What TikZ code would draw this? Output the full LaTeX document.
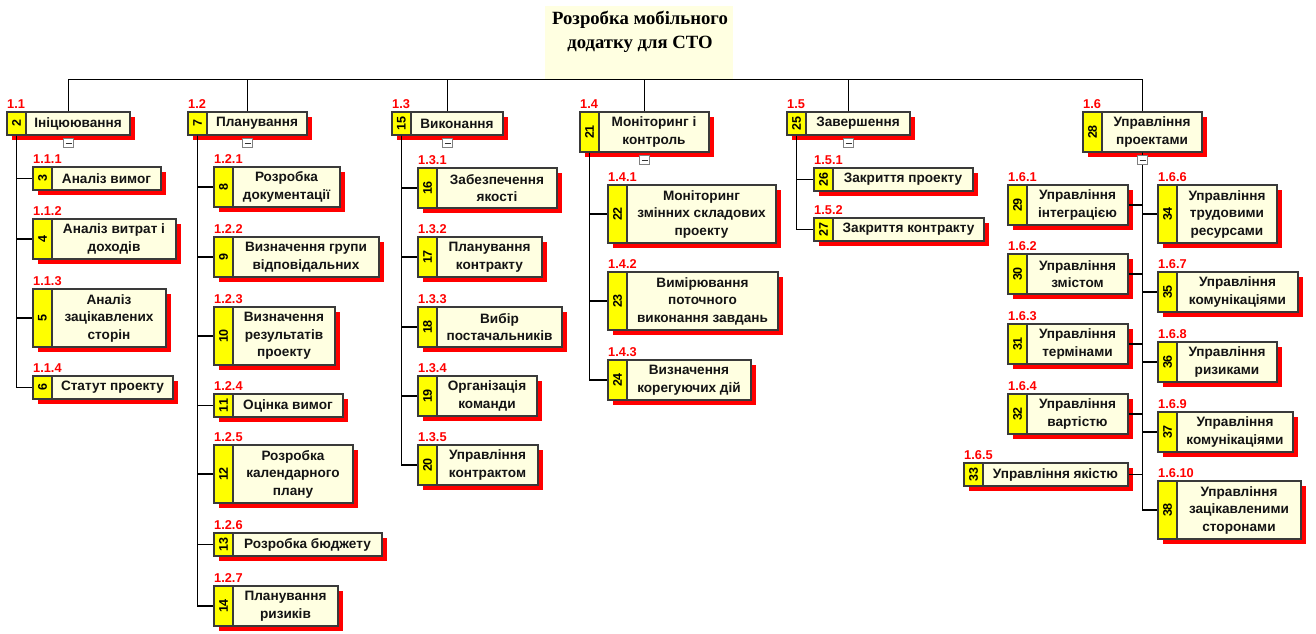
\documentclass[tikz,border=0pt]{standalone}
\usepackage{fontspec}
\setmainfont{Liberation Sans}
\newfontfamily\rootfont{Liberation Serif}
\usetikzlibrary{shadows}
\definecolor{cream}{HTML}{FFFFE1}
\definecolor{ylw}{HTML}{FFFF00}
\definecolor{shred}{HTML}{FF0000}
\definecolor{bord}{HTML}{3A3A3A}
\definecolor{txtc}{HTML}{141414}
\tikzset{
 wbs/.style={draw=bord, line width=1.1pt, fill=cream, inner sep=0pt,
   general shadow={fill=shred, shadow xshift=5pt, shadow yshift=-5pt}},
 numcell/.style={draw=bord, line width=1.1pt, fill=ylw, inner sep=0pt, minimum width=19pt},
 numtxt/.style={rotate=90, inner sep=0pt, font=\fontsize{12.5}{12.5}\selectfont\bfseries, text=black},
 wtxt/.style={align=center, inner sep=0pt, font=\fontsize{13.6}{17.5}\selectfont\bfseries, text=txtc},
 wlbl/.style={anchor=base west, inner sep=0pt, font=\fontsize{12.8}{12.8}\selectfont\bfseries, text=shred},
 conn/.style={draw=black, line width=1.1pt},
 marker/.style={draw=gray, fill=white, line width=0.8pt, minimum width=10pt, minimum height=9pt, inner sep=0pt,
   path picture={\draw[line width=1.1pt, black!80] ([xshift=-3pt]path picture bounding box.center) -- ([xshift=3pt]path picture bounding box.center);}},
}
\newcommand{\wbsbox}[8]{%
 \node[wbs, minimum width={#4-#2}, minimum height={#5-#3}] (b#1) at ({(#2+#4)/2},{(#3+#5)/2}) {};
 \node[numcell, minimum height={#5-#3}] (n#1) at ({#2+9.5},{(#3+#5)/2}) {};
 \node[numtxt] (k#1) at (n#1.center) {#6};
 \node[wtxt] (t#1) at ({(#2+19+#4)/2},{(#3+#5)/2}) {#8};
 \node[wlbl] (l#1) at ({#2},{#3-4}) {#7};
}
\newcommand{\wbsmark}[1]{\node[marker] (m#1) at ([yshift=-7.5pt]b#1.south) {};}
\begin{document}
\begin{tikzpicture}[x=1pt,y=-1pt]
\useasboundingbox (0,0) rectangle (1316,633);
% root
\node[fill=cream, minimum width=188pt, minimum height=73pt, inner sep=0pt] (broot) at (639,42.5) {};
\node[anchor=north, align=center, inner sep=0pt, font=\rootfont\fontsize{18.7}{24}\selectfont\bfseries] (troot) at (640,11) {Розробка мобільного\\додатку для СТО};
% level 1
\wbsbox{11}{7}{112}{130}{135}{2}{1.1}{Ініцюювання}
\wbsbox{12}{188}{112}{307}{135}{7}{1.2}{Планування}
\wbsbox{13}{392}{112}{503}{135}{15}{1.3}{Виконання}
\wbsbox{14}{580}{112}{709}{152}{21}{1.4}{Моніторинг і\\контроль}
\wbsbox{15}{787}{112}{910}{135}{25}{1.5}{Завершення}
\wbsbox{16}{1083}{112}{1202}{152}{28}{1.6}{Управління\\проектами}
% 1.1
\wbsbox{111}{33}{167}{161}{190}{3}{1.1.1}{Аналіз вимог}
\wbsbox{112}{33}{219}{176}{259}{4}{1.1.2}{Аналіз витрат і\\доходів}
\wbsbox{113}{33}{289}{166}{347}{5}{1.1.3}{Аналіз\\зацікавлених\\сторін}
\wbsbox{114}{33}{376}{173}{399}{6}{1.1.4}{Статут проекту}
% 1.2
\wbsbox{121}{214}{167}{340}{207}{8}{1.2.1}{Розробка\\документації}
\wbsbox{122}{214}{237}{379}{277}{9}{1.2.2}{Визначення групи\\відповідальних}
\wbsbox{123}{214}{307}{335}{365}{10}{1.2.3}{Визначення\\результатів\\проекту}
\wbsbox{124}{214}{394}{343}{417}{11}{1.2.4}{Оцінка вимог}
\wbsbox{125}{214}{445}{353}{503}{12}{1.2.5}{Розробка\\календарного\\плану}
\wbsbox{126}{214}{533}{382}{556}{13}{1.2.6}{Розробка бюджету}
\wbsbox{127}{214}{586}{338}{626}{14}{1.2.7}{Планування\\ризиків}
% 1.3
\wbsbox{131}{418}{168}{557}{208}{16}{1.3.1}{Забезпечення\\якості}
\wbsbox{132}{418}{237}{542}{277}{17}{1.3.2}{Планування\\контракту}
\wbsbox{133}{418}{307}{562}{347}{18}{1.3.3}{Вибір\\постачальників}
\wbsbox{134}{418}{376}{537}{416}{19}{1.3.4}{Організація\\команди}
\wbsbox{135}{418}{445}{538}{485}{20}{1.3.5}{Управління\\контрактом}
% 1.4
\wbsbox{141}{608}{185}{776}{243}{22}{1.4.1}{Моніторинг\\змінних складових\\проекту}
\wbsbox{142}{608}{272}{778}{330}{23}{1.4.2}{Вимірювання\\поточного\\виконання завдань}
\wbsbox{143}{608}{360}{751}{400}{24}{1.4.3}{Визначення\\корегуючих дій}
% 1.5
\wbsbox{151}{814}{168}{973}{191}{26}{1.5.1}{Закриття проекту}
\wbsbox{152}{814}{218}{984}{241}{27}{1.5.2}{Закриття контракту}
% 1.6
\wbsbox{161}{1008}{185}{1128}{225}{29}{1.6.1}{Управління\\інтеграцією}
\wbsbox{162}{1008}{254}{1128}{294}{30}{1.6.2}{Управління\\змістом}
\wbsbox{163}{1008}{324}{1128}{364}{31}{1.6.3}{Управління\\термінами}
\wbsbox{164}{1008}{394}{1128}{434}{32}{1.6.4}{Управління\\вартістю}
\wbsbox{165}{964}{463}{1128}{486}{33}{1.6.5}{Управління якістю}
\wbsbox{166}{1158}{185}{1277}{243}{34}{1.6.6}{Управління\\трудовими\\ресурсами}
\wbsbox{167}{1158}{272}{1298}{312}{35}{1.6.7}{Управління\\комунікаціями}
\wbsbox{168}{1158}{342}{1277}{382}{36}{1.6.8}{Управління\\ризиками}
\wbsbox{169}{1158}{412}{1293}{452}{37}{1.6.9}{Управління\\комунікаціями}
\wbsbox{1610}{1158}{481}{1301}{539}{38}{1.6.10}{Управління\\зацікавленими\\сторонами}
% connectors: root
\draw[conn] (b11.north) |- (b16.north |- broot.south) -- (b16.north);
\foreach \i in {12,13,14,15} {\draw[conn] (b\i.north) -- (b\i.north |- broot.south);}
% connectors: children
\foreach \i in {111,112,113,114} {\draw[conn] (n11.south) |- (n\i.west);}
\foreach \i in {121,122,123,124,125,126,127} {\draw[conn] (n12.south) |- (n\i.west);}
\foreach \i in {131,132,133,134,135} {\draw[conn] (n13.south) |- (n\i.west);}
\foreach \i in {141,142,143} {\draw[conn] (n14.south) |- (n\i.west);}
\foreach \i in {151,152} {\draw[conn] (n15.south) |- (n\i.west);}
\foreach \i in {161,162,163,164,165} {\draw[conn] (b16.south) |- (b\i.east);}
\foreach \i in {166,167,168,169,1610} {\draw[conn] (b16.south) |- (n\i.west);}
% collapse markers
\wbsmark{11}\wbsmark{12}\wbsmark{13}\wbsmark{14}\wbsmark{15}\wbsmark{16}
\end{tikzpicture}
\end{document}
